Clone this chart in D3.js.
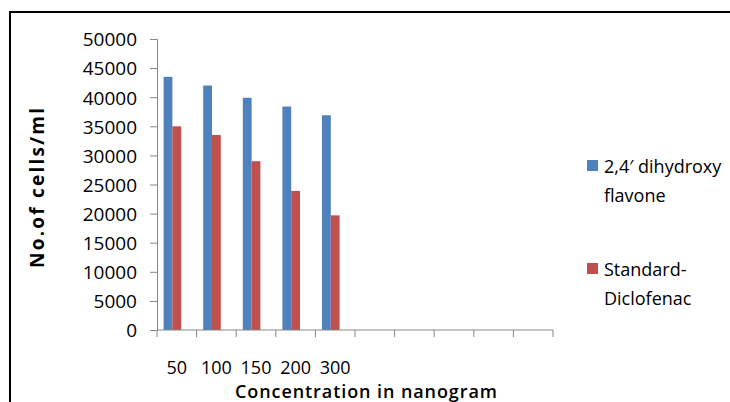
<!DOCTYPE html>
<html>
<head>
<meta charset="utf-8">
<script src="https://cdn.jsdelivr.net/npm/d3@7"></script>
<style>
  html, body { margin: 0; padding: 0; background: #fff; }
  svg { display: block; }
  text { font-family: "Open Sans", sans-serif; fill: #000; }
</style>
</head>
<body>
<div id="chart"></div>
<script>
// data
const categories = ["50", "100", "150", "200", "300", "", "", "", "", ""]
const flavone = [43500, 42000, 39900, 38400, 36900]
const diclofenac = [35000, 33500, 29000, 23900, 19700]
const seriesNames = [["2,4\u2032 dihydroxy", "flavone"], ["Standard-", "Diclofenac"]]
const seriesColors = ["#4F81BD", "#C0504D"]
const yTicks = [0, 5000, 10000, 15000, 20000, 25000, 30000, 35000, 40000, 45000, 50000]

const width = 730, height = 402
const plot = { left: 157, right: 553, top: 39, bottom: 330 }

const svg = d3.select("#chart").append("svg")
  .attr("width", width)
  .attr("height", height)

// frame (runs off the right and bottom edge)
svg.append("path")
  .attr("d", "M10," + (height + 5) + "V12H" + (width + 5))
  .attr("fill", "none")
  .attr("stroke", "#000")
  .attr("stroke-width", 2)

const x = d3.scaleBand()
  .domain(d3.range(categories.length))
  .range([plot.left, plot.right])

// three slots per category, third one is empty (like the original)
const xSub = d3.scaleBand()
  .domain([0, 1, 2])
  .range([0, x.bandwidth()])
  .paddingOuter(0.75)

const y = d3.scaleLinear()
  .domain([0, 50000])
  .range([plot.bottom, plot.top])

const series = [flavone, diclofenac]

series.forEach(function (values, s) {
  svg.append("g").selectAll("rect")
    .data(values)
    .enter().append("rect")
    .attr("x", function (d, i) { return x(i) + xSub(s) })
    .attr("y", function (d) { return y(d) })
    .attr("width", xSub.bandwidth())
    .attr("height", function (d) { return y(0) - y(d) })
    .attr("fill", seriesColors[s])
})

// y axis
const yAxis = svg.append("g")
  .attr("transform", "translate(" + plot.left + ",0)")
  .call(d3.axisLeft(y).tickValues(yTicks).tickSize(7).tickPadding(13).tickFormat(d3.format("d")))
yAxis.select(".domain").attr("stroke", "#868686")
yAxis.selectAll(".tick line").attr("stroke", "#868686")
yAxis.selectAll("text")
  .attr("font-family", "Open Sans")
  .attr("font-size", 19)
  .attr("fill", "#000")
  .attr("dy", "0.36em")

// x axis: ticks on the category boundaries
const xAxis = svg.append("g")
  .attr("transform", "translate(0," + plot.bottom + ")")
const bounds = d3.range(categories.length + 1).map(function (i) { return plot.left + i * x.step() })
xAxis.append("line")
  .attr("x1", plot.left).attr("x2", plot.right)
  .attr("stroke", "#868686")
xAxis.selectAll(".bt")
  .data(bounds)
  .enter().append("line")
  .attr("class", "bt")
  .attr("x1", function (d) { return d }).attr("x2", function (d) { return d })
  .attr("y1", 0).attr("y2", 7)
  .attr("stroke", "#868686")
xAxis.selectAll(".lab")
  .data(categories)
  .enter().append("text")
  .attr("class", "lab")
  .attr("x", function (d, i) { return x(i) + x.bandwidth() / 2 })
  .attr("y", 44)
  .attr("text-anchor", "middle")
  .attr("font-size", 18)
  .text(function (d) { return d })

// axis titles
svg.append("text")
  .attr("transform", "translate(44,188) rotate(-90)")
  .attr("text-anchor", "middle")
  .attr("font-family", "DejaVu Sans")
  .attr("font-weight", "bold")
  .attr("font-size", 19)
  .attr("textLength", 160)
  .attr("lengthAdjust", "spacing")
  .text("No.of cells/ml")

svg.append("text")
  .attr("x", 366)
  .attr("y", 398)
  .attr("text-anchor", "middle")
  .attr("font-size", 18)
  .attr("font-weight", 600)
  .attr("textLength", 262)
  .attr("lengthAdjust", "spacing")
  .text("Concentration in nanogram")

// legend
const legendY = [160, 263]
seriesNames.forEach(function (lines, s) {
  const g = svg.append("g")
  g.append("rect")
    .attr("x", 587).attr("y", legendY[s])
    .attr("width", 11).attr("height", 11)
    .attr("fill", seriesColors[s])
  lines.forEach(function (t, j) {
    g.append("text")
      .attr("x", 604)
      .attr("y", legendY[s] + 13 + j * 29)
      .attr("font-size", 18)
      .text(t)
  })
})
</script>
</body>
</html>
